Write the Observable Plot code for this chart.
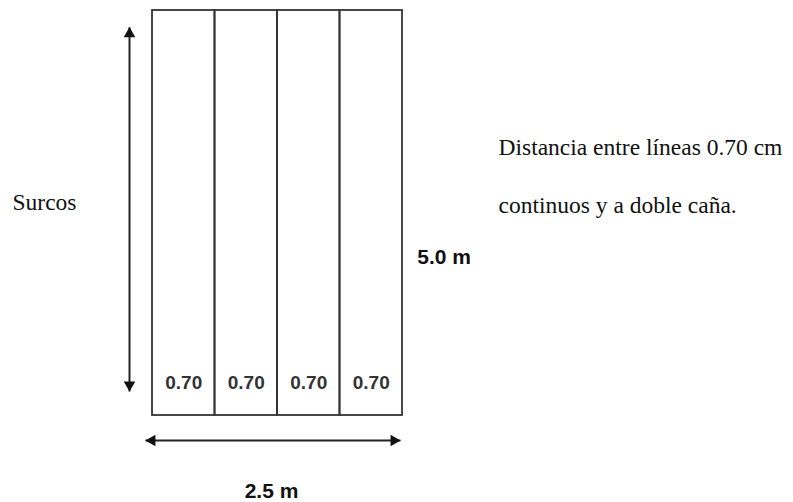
<!DOCTYPE html>
<html>
<head>
<meta charset="utf-8">
<script src="https://cdn.jsdelivr.net/npm/d3@7"></script>
<script src="https://cdn.jsdelivr.net/npm/@observablehq/plot@0.6"></script>
<style>
  html, body { margin: 0; padding: 0; background: #fff; }
  #chart svg { display: block; }
</style>
</head>
<body>
<div id="chart"></div>
<script>
// ---- data (metres) ----
const columnEdges = [0, 0.625, 1.25, 1.875, 2.5];
const spacingLabels = ["0.70", "0.70", "0.70", "0.70"];
const plotWidth = 2.5;
const plotLength = 5.0;
const widthLabel = "2.5 m";
const lengthLabel = "5.0 m";
const rowLabel = "Surcos";
const noteLines = ["Distancia entre líneas 0.70 cm", "continuos y a doble caña."];

// annotation anchors (metres, in the plot's own coordinate frame)
const lengthArrow = { x: -0.23, y1: 0.296, y2: 4.794 };
const widthArrow = { y: -0.309, x1: -0.07, x2: 2.48 };
const rowLabelPos = { x: -1.40, y: 2.531 };
const notePos = { x: 3.46, y: [3.222, 2.506] };
const lengthLabelPos = { x: 2.647, y: 1.873 };
const widthLabelPos = { x: 1.19, y: -1.016 };
const spacingLabelY = 0.321;

const cols = spacingLabels.map((label, i) => ({ x1: columnEdges[i], x2: columnEdges[i + 1], label }));
const notes = noteLines.map((t, i) => ({ text: t, x: notePos.x, y: notePos.y[i] }));

const serif = "'Liberation Serif', 'Times New Roman', serif";
const sans = "'Liberation Sans', Arial, sans-serif";
const ink = "#222";
const headR = 4.3;
const headOff = 6.6;

const chart = Plot.plot({
  width: 793,
  height: 502,
  margin: 0,
  x: { domain: [0, plotWidth], range: [152, 402], axis: null },
  y: { domain: [0, plotLength], range: [415, 10], axis: null },
  style: { background: "#fff" },
  marks: [
    Plot.rect(cols, { x1: "x1", x2: "x2", y1: 0, y2: plotLength, fill: "none", stroke: "#333", strokeWidth: 1.8 }),
    Plot.text(cols, { x: d => (d.x1 + d.x2) / 2, y: spacingLabelY, text: "label", fontFamily: sans, fontWeight: "bold", fontSize: 19, fill: "#333", lineAnchor: "bottom" }),
    // length arrow
    Plot.link([lengthArrow], { x1: "x", x2: "x", y1: "y1", y2: "y2", stroke: ink, strokeWidth: 2 }),
    Plot.dot([lengthArrow], { x: "x", y: "y2", symbol: "triangle", r: headR, fill: "#111", stroke: "none", dy: headOff }),
    Plot.dot([lengthArrow], { x: "x", y: "y1", symbol: "triangle", r: headR, fill: "#111", stroke: "none", rotate: 180, dy: -headOff }),
    // width arrow
    Plot.link([widthArrow], { x1: "x1", x2: "x2", y1: "y", y2: "y", stroke: ink, strokeWidth: 2 }),
    Plot.dot([widthArrow], { x: "x1", y: "y", symbol: "triangle", r: headR, fill: "#111", stroke: "none", rotate: 270, dx: headOff }),
    Plot.dot([widthArrow], { x: "x2", y: "y", symbol: "triangle", r: headR, fill: "#111", stroke: "none", rotate: 90, dx: -headOff }),
    // labels
    Plot.text([rowLabelPos], { x: "x", y: "y", text: [rowLabel], fontFamily: serif, fontSize: 23.5, fill: "#111", textAnchor: "start", lineAnchor: "bottom" }),
    Plot.text(notes, { x: "x", y: "y", text: "text", fontFamily: serif, fontSize: 23.5, fill: "#111", textAnchor: "start", lineAnchor: "bottom" }),
    Plot.text([lengthLabelPos], { x: "x", y: "y", text: [lengthLabel], fontFamily: sans, fontWeight: "bold", fontSize: 21, fill: "#111", textAnchor: "start", lineAnchor: "bottom" }),
    Plot.text([widthLabelPos], { x: "x", y: "y", text: [widthLabel], fontFamily: sans, fontWeight: "bold", fontSize: 21, fill: "#111", textAnchor: "middle", lineAnchor: "bottom" })
  ]
});
document.getElementById("chart").appendChild(chart);
</script>
</body>
</html>
